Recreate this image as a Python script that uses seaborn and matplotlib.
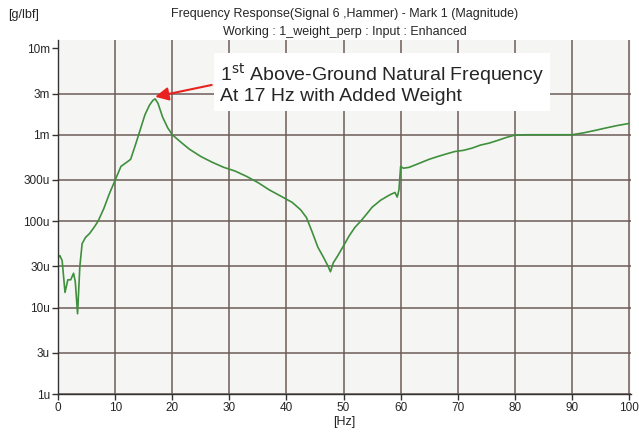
import numpy as np
import pandas as pd
import seaborn as sns
import matplotlib.pyplot as plt
from matplotlib.ticker import FixedLocator

# frequency [Hz] and magnitude [g/lbf]
freq = [0.0, 0.3, 0.7, 1.2, 1.7, 2.2, 2.7, 3.0, 3.4, 3.8, 4.2, 4.8, 5.5, 6.3, 7.0,
        8.0, 9.0, 10.0, 11.0, 12.0, 12.7, 13.5, 14.3, 15.2, 16.0, 16.6, 17.0, 17.5,
        18.3, 19.2, 20.0, 21.5, 23.0, 25.0, 27.0, 29.0, 31.0, 33.0, 35.0, 37.0, 39.0,
        41.0, 42.5, 43.5, 44.5, 45.5, 46.5, 47.3, 47.7, 48.2, 49.0, 50.0, 51.0, 52.0,
        53.0, 54.0, 55.0, 56.5, 58.0, 59.0, 59.4, 59.7, 60.0, 60.5, 61.5, 63.0, 65.0,
        66.5, 68.0, 69.5, 71.0, 72.5, 74.0, 75.5, 77.0, 78.5, 80.0, 82.0, 85.0, 88.0,
        90.0, 92.0, 94.0, 96.0, 98.0, 100.0]
mag_u = [38, 40, 35, 15, 21, 21, 25, 20, 8.5, 30, 55, 65, 72, 85, 100,
         140, 210, 300, 430, 480, 520, 750, 1100, 1700, 2200, 2500, 2600, 2300,
         1600, 1200, 1000, 820, 680, 560, 480, 420, 380, 330, 280, 230, 195,
         165, 135, 110, 75, 50, 38, 30, 26, 33, 40, 52, 68, 85,
         100, 120, 145, 175, 200, 215, 190, 230, 430, 410, 420, 460, 520,
         560, 600, 640, 660, 700, 760, 800, 860, 930, 990, 1000, 1000, 1000,
         1000, 1050, 1120, 1200, 1280, 1350]

ytick_vals = [1e-6, 3e-6, 1e-5, 3e-5, 1e-4, 3e-4, 1e-3, 3e-3, 1e-2]
ytick_labels = ["1u", "3u", "10u", "30u", "100u", "300u", "1m", "3m", "10m"]
xtick_vals = [0, 10, 20, 30, 40, 50, 60, 70, 80, 90, 100]

df = pd.DataFrame({"freq": freq, "mag": np.array(mag_u) * 1e-6})

sns.set_style("white")
plt.rcParams['font.family'] = ['Liberation Sans Narrow', 'Liberation Sans', 'DejaVu Sans']

fig = plt.figure(figsize=(6.39, 4.34), dpi=100)
ax = fig.add_axes([0.091, 0.092, 0.896, 0.816])
ax.set_facecolor("#f5f6f4")

sns.lineplot(data=df, x="freq", y="mag", color="#3f8f3c", linewidth=1.2, ax=ax)

ax.set_yscale("log")
ax.set_ylim(1e-6, 1.25e-2)
ax.set_xlim(0, 100.3)

ax.yaxis.set_major_locator(FixedLocator(ytick_vals))
ax.set_yticklabels(ytick_labels)
ax.yaxis.set_minor_locator(FixedLocator([]))
ax.set_xticks(xtick_vals)

ax.grid(which="major", color="#6d5c58", linewidth=1.1)
# no horizontal grid line at the 10m label
ax.yaxis.get_gridlines()[-1].set_visible(False)
ax.set_axisbelow(True)

for side in ["top", "right"]:
    ax.spines[side].set_visible(False)
for side in ["left", "bottom"]:
    ax.spines[side].set_color("#333333")
    ax.spines[side].set_linewidth(1.0)

ax.tick_params(axis="both", which="major", length=4, width=1, color="#333333",
               labelsize=8.5, direction="out", left=True, bottom=True, pad=2)

ax.set_xlabel("[Hz]", fontsize=9, labelpad=1)
ax.set_ylabel("")

fig.text(0.012, 0.965, "[g/lbf]", fontsize=9, ha="left", va="center")
fig.text(0.54, 0.968, "Frequency Response(Signal 6 ,Hammer) - Mark 1 (Magnitude)",
         fontsize=9, ha="center", va="center")
fig.text(0.54, 0.927, "Working : 1_weight_perp : Input : Enhanced",
         fontsize=9, ha="center", va="center")

ax.annotate("1$^{\\mathrm{st}}$ Above-Ground Natural Frequency\nAt 17 Hz with Added Weight",
            xy=(17.0, 2.75e-3), xytext=(28.4, 3.95e-3),
            fontsize=14, family=['Liberation Sans', 'DejaVu Sans'], ha="left", va="center",
            linespacing=1.12,
            bbox=dict(boxstyle="square,pad=0.3", fc="white", ec="none"),
            arrowprops=dict(arrowstyle="-|>", color="#e8231f", lw=1.5, relpos=(0.0, 0.5),
                            mutation_scale=20, shrinkA=2, shrinkB=0))

fig.savefig("out.png", dpi=100)
